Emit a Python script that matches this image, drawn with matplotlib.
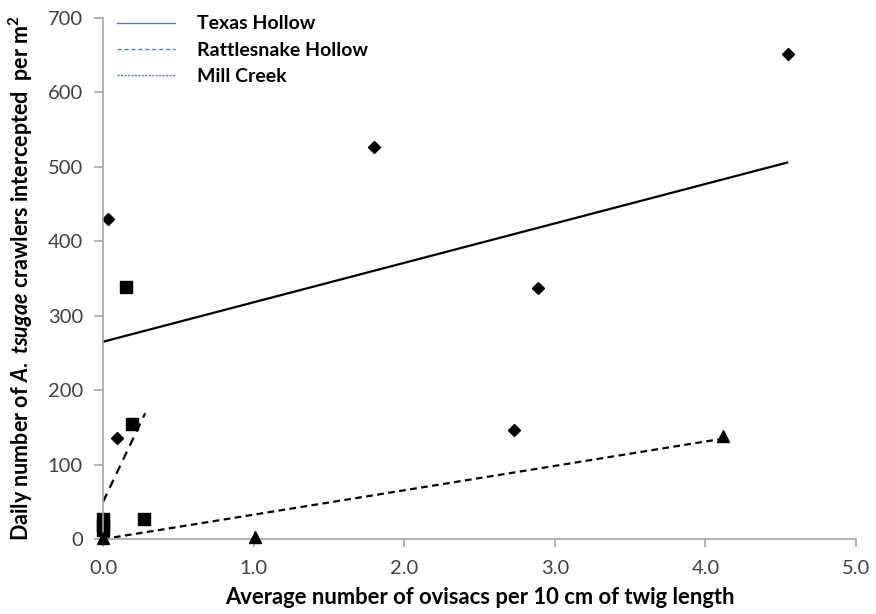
import matplotlib
matplotlib.use("Agg")
import matplotlib.pyplot as plt
from matplotlib.lines import Line2D

plt.rcParams['font.family'] = ['Lato', 'DejaVu Sans']
plt.rcParams['mathtext.fontset'] = 'custom'
plt.rcParams['mathtext.rm'] = 'Lato:bold'
plt.rcParams['mathtext.it'] = 'Lato:bold:italic'
plt.rcParams['mathtext.bf'] = 'Lato:bold'

# Texas Hollow (losanges)
texasX = [0.03, 0.09, 1.80, 2.73, 2.89, 4.55]
texasY = [430, 136, 527, 146, 337, 652]
texasTendX = [0.0, 4.55]
texasTendY = [265, 506]

# Rattlesnake Hollow (carrés)
rattleX = [0.0, 0.0, 0.0, 0.15, 0.19, 0.27]
rattleY = [27, 19, 12, 338, 154, 27]
rattleTendX = [0.0, 0.28]
rattleTendY = [50, 169]

# Mill Creek (triangles)
millX = [0.0, 1.01, 4.12]
millY = [2, 3, 139]
millTendX = [0.0, 4.12]
millTendY = [0, 135]

xTicks = [0, 1, 2, 3, 4, 5]
yTicks = [0, 100, 200, 300, 400, 500, 600, 700]

gris = "#a6a6a6"
bleu = "#4f81bd"

fig = plt.figure(figsize=(8.76, 6.14), dpi=100)
ax = fig.add_axes([0.1176, 0.122, 0.8596, 0.849])

ax.plot(texasTendX, texasTendY, color="black", lw=1.6, solid_capstyle="butt")
ax.plot(rattleTendX, rattleTendY, color="black", lw=1.6, ls=(0, (4, 3)))
ax.plot(millTendX, millTendY, color="black", lw=1.6, ls=(0, (3, 2)))

ax.plot(texasX, texasY, ls="none", marker="D", ms=6, color="black", clip_on=False)
ax.plot(rattleX, rattleY, ls="none", marker="s", ms=8, color="black", clip_on=False)
ax.plot(millX, millY, ls="none", marker="^", ms=8, color="black", clip_on=False, zorder=4)

ax.set_xlim(0, 5)
ax.set_ylim(0, 700)
ax.set_xticks(xTicks)
ax.set_xticklabels([f"{v:.1f}" for v in xTicks])
ax.set_yticks(yTicks)

for cote in ["top", "right"]:
	ax.spines[cote].set_visible(False)
for cote in ["left", "bottom"]:
	ax.spines[cote].set_color(gris)
	ax.spines[cote].set_linewidth(1.2)

ax.tick_params(axis="both", direction="out", color=gris, width=1.2,
			   labelsize=14.5, labelcolor="#404040")
ax.tick_params(axis="x", length=6, pad=9)
ax.tick_params(axis="y", length=6.5, pad=8)

ax.set_xlabel("Average number of ovisacs per 10 cm of twig length",
			  fontsize=15.8, fontweight="bold", labelpad=7)
ax.set_ylabel(r"Daily number of $\mathit{A.\ tsugae}$ crawlers intercepted  per m$^{\mathbf{2}}$",
			  fontsize=15.5, fontweight="bold", labelpad=9)

poignees = [
	Line2D([], [], color=bleu, lw=1.0),
	Line2D([], [], color=bleu, lw=1.0, ls=(0, (3, 2))),
	Line2D([], [], color=bleu, lw=1.0, ls=(0, (1.5, 1))),
]
ax.legend(poignees, ["Texas Hollow", "Rattlesnake Hollow", "Mill Creek"],
		  loc="upper left", bbox_to_anchor=(-0.005, 1.038), frameon=False,
		  prop={"weight": "bold", "size": 14}, handlelength=3.0,
		  handletextpad=1.13, labelspacing=0.48)

fig.savefig("out.png", dpi=100)
